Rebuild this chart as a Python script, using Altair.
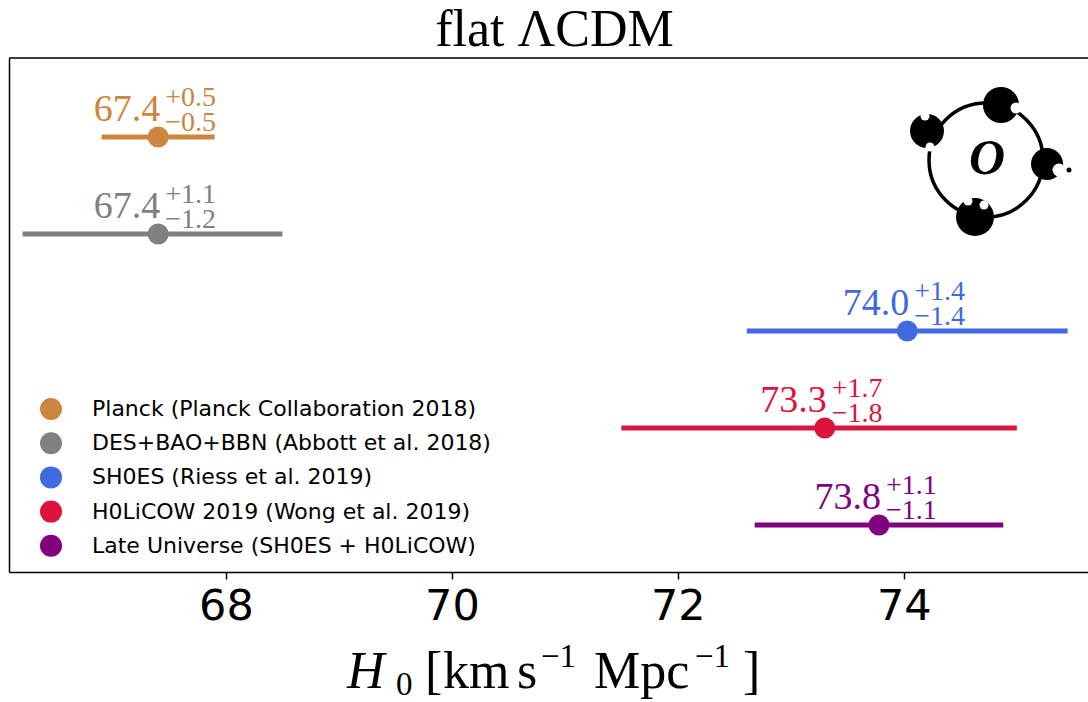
import altair as alt
import pandas as pd

# ---- data ----
names = [
    "Planck (Planck Collaboration 2018)",
    "DES+BAO+BBN (Abbott et al. 2018)",
    "SH0ES (Riess et al. 2019)",
    "H0LiCOW 2019 (Wong et al. 2019)",
    "Late Universe (SH0ES + H0LiCOW)",
]
colors = ["#CD853F", "#808080", "#4169E1", "#DC143C", "#800080"]
h0 = [67.4, 67.4, 74.03, 73.3, 73.78]
err_plus = [0.5, 1.1, 1.42, 1.7, 1.1]
err_minus = [0.5, 1.2, 1.42, 1.8, 1.1]
main_labels = ["67.4", "67.4", "74.0", "73.3", "73.8"]
sup_labels = ["+0.5", "+1.1", "+1.4", "+1.7", "+1.1"]
sub_labels = ["\u22120.5", "\u22121.2", "\u22121.4", "\u22121.8", "\u22121.1"]
rows = [0, 1, 2, 3, 4]
x_ticks = [68, 70, 72, 74]

df = pd.DataFrame({
    "name": names,
    "col": colors,
    "h0": h0,
    "lo": [v - m for v, m in zip(h0, err_minus)],
    "hi": [v + p for v, p in zip(h0, err_plus)],
    "row": rows,
    "main": main_labels,
    "sup": sup_labels,
    "sub": sub_labels,
})

W, H = 1079, 514
SERIF = "Liberation Serif"

xs = alt.Scale(domain=[66.08, 75.63], nice=False, zero=False)
ys = alt.Scale(domain=[-0.814, 4.485], nice=False, zero=False, reverse=True)
cs = alt.Scale(domain=names, range=colors)

xaxis = alt.Axis(
    values=x_ticks, format="d", title=None,
    labelFont="DejaVu Sans", labelFontSize=43, labelColor="black", labelPadding=6,
    tickSize=7, tickWidth=1.5, tickColor="black",
    domainColor="black", domainWidth=1.5, grid=False, labelFlush=False,
)
yaxis = alt.Axis(title=None, labels=False, ticks=False, grid=False,
                 domainColor="black", domainWidth=1.5)

base = alt.Chart(df)

def X(f):
    return alt.X(f"{f}:Q", scale=xs, axis=xaxis)

Y = alt.Y("row:Q", scale=ys, axis=yaxis)
C = alt.Color("col:N", scale=None)

bars = base.mark_rule(strokeWidth=5).encode(x=X("lo"), x2="hi:Q", y=Y, color=C)

points = base.mark_circle(size=441, opacity=1).encode(
    x=X("h0"), y=Y,
    color=alt.Color("name:N", scale=cs, legend=alt.Legend(
        title=None, orient="none", legendX=31, legendY=340,
        symbolType="circle", symbolSize=484, symbolOpacity=1, symbolStrokeWidth=0,
        labelFont="DejaVu Sans", labelFontSize=22, labelColor="black",
        labelOffset=30, rowPadding=12.2, padding=0, labelLimit=800,
    )),
)

main_txt = base.mark_text(align="right", baseline="alphabetic", dx=2, dy=-16,
                          font=SERIF, fontSize=38).encode(
    x=X("h0"), y=Y, text="main:N", color=C)
sup_txt = base.mark_text(align="left", baseline="alphabetic", dx=7, dy=-31,
                         font=SERIF, fontSize=28).encode(
    x=X("h0"), y=Y, text="sup:N", color=C)
sub_txt = base.mark_text(align="left", baseline="alphabetic", dx=7, dy=-6,
                         font=SERIF, fontSize=28).encode(
    x=X("h0"), y=Y, text="sub:N", color=C)

# ---- frame top line, axis title pieces and decorative logo ----
one = alt.Chart(pd.DataFrame({"k": [0]}))
top_line = one.mark_rule(color="black", strokeWidth=1.5).encode(
    x=alt.value(0), x2=alt.value(W), y=alt.value(0))

def piece(txt, px, py, size, style="normal"):
    return one.mark_text(text=txt, font=SERIF, fontSize=size, fontStyle=style,
                         color="black", align="left", baseline="alphabetic").encode(
        x=alt.value(px), y=alt.value(py))

axis_title = [
    piece("H", 338, 630, 52, "italic"),
    piece("0", 387, 637, 33),
    piece("[", 416, 630, 52),
    piece("km", 434, 630, 52),
    piece("s", 508, 630, 52),
    piece("\u22121", 532, 609, 33),
    piece("Mpc", 585, 630, 52),
    piece("\u22121", 686, 609, 33),
    piece("]", 734, 630, 52),
]

def blob(px, py, d, color="black"):
    return one.mark_circle(size=d * d, opacity=1, color=color).encode(
        x=alt.value(px), y=alt.value(py))

ring = one.mark_point(shape="circle", size=114 * 114, filled=False,
                      color="black", strokeWidth=3.5, opacity=1).encode(
    x=alt.value(977), y=alt.value(102))
logo_o = one.mark_text(text="O", font=SERIF, fontSize=50, fontWeight="bold",
                       fontStyle="italic", color="black", baseline="middle",
                       align="center").encode(x=alt.value(978), y=alt.value(101))
logo = [
    ring,
    blob(992, 47, 36), blob(918, 73, 34), blob(1038, 106, 32), blob(966, 159, 38),
    blob(1060, 112, 5),
    blob(1007, 50, 11, "white"), blob(1050, 112, 13, "white"),
    blob(916, 58, 9, "white"), blob(921, 89, 9, "white"),
    blob(959, 143, 9, "white"), blob(975, 147, 9, "white"),
    logo_o,
]

chart = alt.layer(bars, points, main_txt, sup_txt, sub_txt, top_line,
                  *axis_title, *logo).properties(
    width=W, height=H,
    autosize=alt.AutoSizeParams(type="none"),
    padding={"left": 9, "top": 58, "right": 0, "bottom": 130},
    title=alt.TitleParams("flat \u039bCDM", font=SERIF, fontSize=52, fontWeight="normal",
                          color="black", anchor="middle", dx=6, offset=0),
).configure_view(stroke=None).configure(background="white")

chart.save("out.html", embed_options={"renderer": "svg", "actions": False})
